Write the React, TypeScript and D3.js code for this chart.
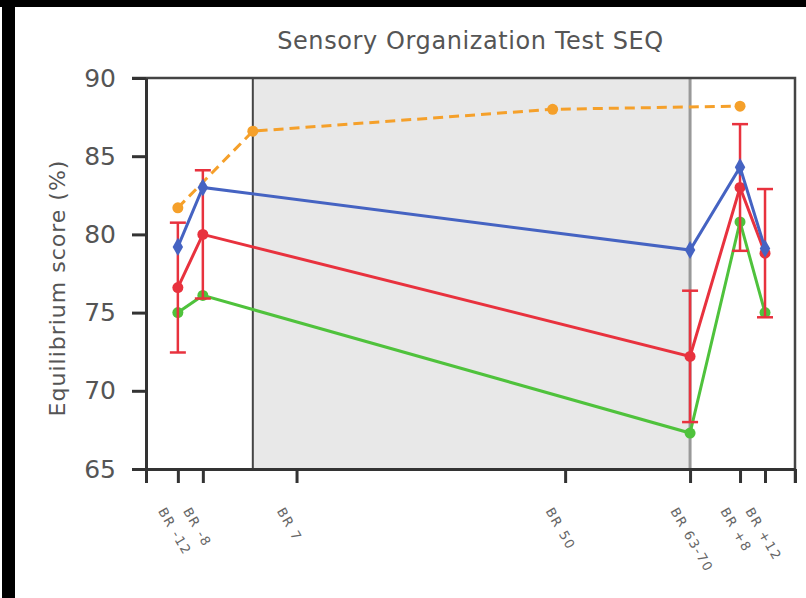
import React, { useEffect, useRef } from 'react';
import * as d3 from 'd3';

// days relative to bed rest start
const xTicks = [-12, -8, 7, 50, 70, 78, 82];
const xLabels = ['BR -12', 'BR -8', 'BR 7', 'BR 50', 'BR 63-70', 'BR +8', 'BR +12'];
const yTicks = [65, 70, 75, 80, 85, 90];

const groupDays = [-12, -8, 70, 78, 82];
const blueValues = [79.2, 83.0, 79.0, 84.3, 79.1];
const redValues = [76.6, 80.0, 72.2, 83.0, 78.8];
const redErrors = [4.15, 4.1, 4.2, 4.05, 4.1];
const greenValues = [75.0, 76.1, 67.3, 80.8, 75.0];

const orangeDays = [-12, 0, 48, 78];
const orangeValues = [81.7, 86.6, 88.0, 88.2];

const bedRest = [0, 70];

const App = () => {
  const ref = useRef<SVGSVGElement>(null);

  useEffect(() => {
    const svg = d3.select(ref.current);
    svg.selectAll('*').remove();
    const width = 806;
    const height = 598;
    const margin = { top: 78, right: 11, bottom: 129, left: 146 };
    const font = 'DejaVu Sans, Verdana, sans-serif';

    // frame of the screenshot
    svg.append('rect').attr('x', 0).attr('y', 0).attr('width', width).attr('height', height).attr('fill', '#fff');
    svg.append('rect').attr('x', 2).attr('y', 0).attr('width', 13).attr('height', height).attr('fill', '#000');
    svg.append('rect').attr('x', 0).attr('y', 0).attr('width', width).attr('height', 7).attr('fill', '#000');

    const x = d3.scaleLinear()
      .domain([-17.1, 86.8])
      .range([margin.left, width - margin.right]);

    const y = d3.scaleLinear()
      .domain([65, 90])
      .range([height - margin.bottom, margin.top]);

    const [x0, x1] = x.range();
    const [yb, yt] = y.range();

    // bed rest band
    svg.append('rect')
      .attr('x', x(bedRest[0]))
      .attr('y', yt)
      .attr('width', x(bedRest[1]) - x(bedRest[0]))
      .attr('height', yb - yt)
      .attr('fill', '#e8e8e8');
    svg.append('line')
      .attr('x1', x(bedRest[0])).attr('x2', x(bedRest[0]))
      .attr('y1', yt).attr('y2', yb)
      .attr('stroke', '#444').attr('stroke-width', 2);
    svg.append('line')
      .attr('x1', x(bedRest[1])).attr('x2', x(bedRest[1]))
      .attr('y1', yt).attr('y2', yb)
      .attr('stroke', '#999').attr('stroke-width', 3);

    // top and right frame
    svg.append('path')
      .attr('d', `M${x0 - 14},${yt}H${x1}V${yb + 14}`)
      .attr('fill', 'none')
      .attr('stroke', '#444')
      .attr('stroke-width', 2.5);

    const line = (days: number[]) => d3.line<number>()
      .x((_, i) => x(days[i]))
      .y(d => y(d));

    // orange dashed
    svg.append('path')
      .datum(orangeValues)
      .attr('d', line(orangeDays))
      .attr('fill', 'none')
      .attr('stroke', '#f5a02a')
      .attr('stroke-width', 3)
      .attr('stroke-dasharray', '10,6');
    svg.append('g')
      .selectAll('circle')
      .data(orangeValues)
      .join('circle')
      .attr('cx', (_, i) => x(orangeDays[i]))
      .attr('cy', d => y(d))
      .attr('r', 5.5)
      .attr('fill', '#f5a02a');

    const series = [
      { values: greenValues, color: '#4fc23c', symbol: d3.symbolCircle },
      { values: redValues, color: '#e8323e', symbol: d3.symbolCircle },
      { values: blueValues, color: '#4563c2', symbol: d3.symbolDiamond },
    ];

    series.forEach(s => {
      if (s.values === redValues) {
        const eb = svg.append('g').attr('stroke', s.color).attr('stroke-width', 2.5);
        redValues.forEach((v, i) => {
          const cx = x(groupDays[i]);
          const lo = y(v - redErrors[i]);
          const hi = y(v + redErrors[i]);
          eb.append('line').attr('x1', cx).attr('x2', cx).attr('y1', lo).attr('y2', hi);
          eb.append('line').attr('x1', cx - 8).attr('x2', cx + 8).attr('y1', lo).attr('y2', lo);
          eb.append('line').attr('x1', cx - 8).attr('x2', cx + 8).attr('y1', hi).attr('y2', hi);
        });
      }
      svg.append('path')
        .datum(s.values)
        .attr('d', line(groupDays))
        .attr('fill', 'none')
        .attr('stroke', s.color)
        .attr('stroke-width', 3);
      svg.append('g')
        .selectAll('path')
        .data(s.values)
        .join('path')
        .attr('transform', (d, i) => `translate(${x(groupDays[i])},${y(d)})`)
        .attr('d', d3.symbol().type(s.symbol).size(95)())
        .attr('fill', s.color);
    });

    // axes
    const yAxis = g => g
      .attr('transform', `translate(${x0},0)`)
      .call(d3.axisLeft(y).tickValues(yTicks).tickSize(14).tickSizeOuter(0).tickPadding(16))
      .call(g => g.selectAll('line').attr('stroke', '#333').attr('stroke-width', 3))
      .call(g => g.select('.domain').attr('stroke', '#333').attr('stroke-width', 3))
      .call(g => g.selectAll('text')
        .attr('font-family', font)
        .attr('font-size', 25)
        .attr('fill', '#555'));

    const xAxis = g => g
      .attr('transform', `translate(0,${yb})`)
      .call(d3.axisBottom(x).tickValues([x.domain()[0], ...xTicks, x.domain()[1]]).tickSize(14).tickSizeOuter(0).tickFormat(() => ''))
      .call(g => g.selectAll('line').attr('stroke', '#333').attr('stroke-width', 3))
      .call(g => g.select('.domain').attr('stroke', '#333').attr('stroke-width', 3));

    svg.append('g').call(yAxis);
    svg.append('g').call(xAxis);

    svg.append('g')
      .selectAll('text')
      .data(xTicks)
      .join('text')
      .attr('transform', d => `translate(${x(d) - 20},${yb + 42}) rotate(60)`)
      .attr('font-family', font)
      .attr('font-size', 13)
      .attr('letter-spacing', 1.5)
      .attr('fill', '#666')
      .text((_, i) => xLabels[i]);

    svg.append('text')
      .attr('x', (x0 + x1) / 2)
      .attr('y', 49)
      .attr('text-anchor', 'middle')
      .attr('font-family', font)
      .attr('font-size', 24)
      .attr('letter-spacing', 0.6)
      .attr('fill', '#555')
      .text('Sensory Organization Test SEQ');

    svg.append('text')
      .attr('transform', `translate(65,288) rotate(-90)`)
      .attr('text-anchor', 'middle')
      .attr('font-family', font)
      .attr('font-size', 22)
      .attr('letter-spacing', 1)
      .attr('fill', '#555')
      .text('Equilibrium score (%)');
  }, []);

  return (
    <svg ref={ref} width={806} height={598} style={{ position: 'absolute', left: 0, top: 0 }}></svg>
  );
};

export default App;
